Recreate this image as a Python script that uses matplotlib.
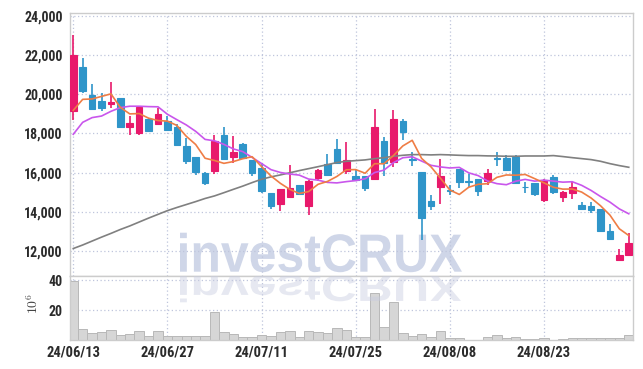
import matplotlib
matplotlib.use('Agg')
import matplotlib.pyplot as plt
import numpy as np
from matplotlib.textpath import TextPath
from matplotlib.patches import PathPatch
from matplotlib.font_manager import FontProperties
from matplotlib import font_manager as fm
from matplotlib.ticker import FuncFormatter
import matplotlib.transforms as mtransforms

dates = ['2024-06-13', '2024-06-14', '2024-06-17', '2024-06-18', '2024-06-19', '2024-06-20',
         '2024-06-21', '2024-06-24', '2024-06-25', '2024-06-26', '2024-06-27', '2024-06-28',
         '2024-07-01', '2024-07-02', '2024-07-03', '2024-07-04', '2024-07-05', '2024-07-08',
         '2024-07-09', '2024-07-10', '2024-07-11', '2024-07-12', '2024-07-15', '2024-07-16',
         '2024-07-17', '2024-07-18', '2024-07-19', '2024-07-22', '2024-07-23', '2024-07-24',
         '2024-07-25', '2024-07-26', '2024-07-29', '2024-07-30', '2024-07-31', '2024-08-01',
         '2024-08-02', '2024-08-05', '2024-08-06', '2024-08-07', '2024-08-08', '2024-08-09',
         '2024-08-12', '2024-08-13', '2024-08-14', '2024-08-16', '2024-08-19', '2024-08-20',
         '2024-08-21', '2024-08-22', '2024-08-23', '2024-08-26', '2024-08-27', '2024-08-28',
         '2024-08-29', '2024-08-30', '2024-09-02', '2024-09-03', '2024-09-04', '2024-09-05']

opens = [19140, 21380, 19940, 19650, 19480, 19780, 18320, 18000, 18730, 18480,
         18610, 18320, 17360, 16800, 15980, 16070, 17900, 16800, 17440, 16630,
         16250, 14950, 14420, 14760, 15350, 14300, 15740, 16460, 17190, 16080,
         15850, 15810, 15680, 17590, 16540, 18610, 16710, 16020, 14540, 15270,
         15120, 16170, 15560, 15660, 15560, 16730, 16720, 16800, 15290, 15460,
         14590, 15760, 14760, 14960, 14340, 14290, 14130, 13010, 11550, 11820]
highs = [22990, 21850, 20530, 20070, 20600, 19780, 18880, 19380, 18800, 19310,
         18870, 18490, 17760, 16800, 16030, 17930, 18320, 17870, 17520, 16660,
         16510, 14950, 15150, 16410, 15390, 15610, 16190, 16970, 17700, 17580,
         16120, 15810, 19260, 17800, 19210, 18750, 17050, 16050, 14880, 16690,
         15350, 16170, 15910, 15660, 16190, 17040, 16910, 16880, 15520, 15460,
         15660, 15860, 15070, 15510, 14510, 14510, 14130, 13400, 12130, 12940]
lows = [18700, 20050, 19210, 19120, 19310, 18270, 17930, 17930, 18070, 18440,
        18150, 17410, 16440, 15900, 15370, 15950, 16690, 16510, 16750, 15850,
        14960, 14130, 14030, 14740, 14850, 13830, 15560, 15860, 16460, 15950,
        15590, 15050, 15680, 15850, 16290, 17680, 16320, 12550, 14080, 14420,
        14850, 15220, 15270, 14810, 15390, 16340, 16070, 15470, 14960, 14810,
        14500, 14930, 14520, 14640, 14120, 13950, 13030, 12620, 11550, 11790]
closes = [21970, 20160, 19260, 19290, 19580, 18310, 18510, 19340, 18120, 18970,
          18170, 17410, 16580, 16020, 15470, 17590, 16690, 17030, 16750, 15980,
          15070, 14300, 15150, 15220, 14930, 15560, 16150, 15880, 16490, 16630,
          15610, 15220, 18310, 16470, 18710, 18070, 16660, 13690, 14320, 15810,
          15080, 15520, 15530, 15070, 15970, 16700, 16120, 15470, 15260, 14910,
          15610, 15000, 15000, 15290, 14130, 14100, 13030, 12620, 11790, 12430]
volumes = [39.3, 7.3, 4.7, 5.3, 6.7, 3.3, 4.0, 6.0, 2.7, 6.0,
           2.7, 2.7, 2.7, 2.7, 2.7, 18.7, 5.3, 4.0, 2.0, 2.0,
           3.3, 2.7, 5.3, 6.0, 2.0, 6.0, 5.3, 4.7, 8.0, 6.7,
           2.0, 2.0, 31.3, 8.7, 25.3, 4.7, 2.7, 4.0, 2.0, 6.0,
           1.3, 1.3, 0.4, 0.4, 2.0, 3.3, 1.3, 2.0, 0.7, 0.7,
           1.3, 0.4, 0.7, 1.3, 1.3, 1.3, 1.3, 1.3, 1.3, 3.3]
ma5 = [19170, 19730, 19750, 19880, 20010, 19320, 18990, 19006, 18772, 18650,
       18622, 18402, 17850, 17430, 16730, 16614, 16470, 16560, 16706, 16808,
       16304, 15826, 15450, 15144, 14934, 15032, 15402, 15548, 15802, 16142,
       16152, 15966, 16452, 16448, 16864, 17356, 17644, 16720, 16290, 15710,
       15112, 14884, 15252, 15402, 15434, 15758, 15878, 15866, 15904, 15692,
       15474, 15250, 15156, 15162, 15006, 14704, 14310, 13834, 13134, 12794]
ma10 = [17950, 18560, 18800, 18880, 19120, 19310, 19380, 19380, 19360, 19351,
        18971, 18696, 18428, 18101, 17690, 17618, 17436, 17205, 17068, 16769,
        16459, 16148, 16005, 15925, 15871, 15668, 15614, 15499, 15473, 15538,
        15592, 15684, 16000, 16125, 16503, 16754, 16805, 16586, 16369, 16287,
        16234, 16264, 15986, 15846, 15572, 15435, 15381, 15559, 15653, 15563,
        15616, 15564, 15511, 15533, 15349, 15089, 14780, 14495, 14148, 13900]
ma_long = [12130, 12310, 12510, 12710, 12900, 13100, 13280, 13480, 13680, 13870,
           14060, 14220, 14370, 14520, 14680, 14810, 14975, 15145, 15310, 15490,
           15660, 15780, 15880, 15990, 16100, 16200, 16300, 16405, 16510, 16575,
           16610, 16645, 16710, 16760, 16830, 16880, 16915, 16915, 16900, 16915,
           16900, 16880, 16865, 16865, 16850, 16845, 16830, 16830, 16845, 16845,
           16845, 16865, 16815, 16760, 16710, 16660, 16575, 16455, 16355, 16270]
price_ticks = [12000, 14000, 16000, 18000, 20000, 22000, 24000]
volume_ticks = [20, 40]
date_tick_idx = [0, 10, 20, 30, 40, 50]

W, H = 643, 369
fig = plt.figure(figsize=(W / 100, H / 100), dpi=100)
L, R = 69.5, 633
TOP, MID, BOT = 13, 276, 340.3
ax = fig.add_axes([L / W, 1 - MID / H, (R - L) / W, (MID - TOP) / H])
axv = fig.add_axes([L / W, 1 - BOT / H, (R - L) / W, (BOT - MID) / H], sharex=ax)

UP, DOWN = '#e8196b', '#2f95c9'
GRID = '#bfc5dc'
SPINE = '#cccccc'
LABEL = '#2b2b2b'

# pick a condensed bold font if one is installed
avail = {f.name for f in fm.fontManager.ttflist}
if 'Liberation Sans Narrow' in avail:
    yfont = FontProperties(family='Liberation Sans Narrow', weight='bold', size=10.5)
    xfont = FontProperties(family='Liberation Sans Narrow', weight='bold', size=11)
elif 'Roboto Condensed' in avail:
    yfont = FontProperties(family='Roboto Condensed', weight='bold', size=10)
    xfont = FontProperties(family='Roboto Condensed', weight='bold', size=10.5)
else:
    yfont = FontProperties(family='Liberation Sans', weight='bold', size=9)
    xfont = FontProperties(family='Liberation Sans', weight='bold', size=9.3)

x = np.arange(len(dates))
o = np.array(opens); c = np.array(closes); h = np.array(highs); l = np.array(lows)
cols = [UP if cc >= oo else DOWN for oo, cc in zip(o, c)]

ax.vlines(x, l, h, colors=cols, linewidth=1.2, zorder=3)
ax.bar(x, np.abs(c - o), bottom=np.minimum(o, c), width=0.7, color=cols,
       edgecolor=cols, linewidth=0.8, zorder=4)

ax.plot(x, ma_long, color='#808080', lw=1.2, zorder=5)
ax.plot(x, ma10, color='#c956ec', lw=1.2, zorder=5)
ax.plot(x, ma5, color='#ef7d45', lw=1.2, zorder=5)

axv.bar(x, volumes, width=1.0, color='#d6d6d6', edgecolor='#b8b8b8', linewidth=0.7, zorder=2)

ax.set_xlim(-0.4, 59.45)
ax.set_ylim(10730, 24130)
axv.set_ylim(0, 42.9)

for a in (ax, axv):
    a.set_axisbelow(True)
    a.grid(True, color=GRID, linestyle=(0, (1, 2)), linewidth=0.9)
    for s in a.spines.values():
        s.set_color(SPINE)
        s.set_linewidth(1.0)
    a.tick_params(length=0, colors=LABEL)

ax.set_yticks(price_ticks)
ax.yaxis.set_major_formatter(FuncFormatter(lambda v, p: f'{v:,.0f}'))
axv.set_yticks(volume_ticks)
axv.set_xticks(date_tick_idx)
axv.set_xticklabels([dates[i][2:].replace('-', '/') for i in date_tick_idx])
ax.tick_params(axis='x', labelbottom=False)
ax.tick_params(axis='y', pad=5)
axv.tick_params(axis='y', pad=5)
axv.tick_params(axis='x', pad=4)
for a in (ax, axv):
    for t in a.get_yticklabels():
        t.set_fontproperties(yfont)
        t.set_color(LABEL)
    for t in a.get_xticklabels():
        t.set_fontproperties(xfont)
        t.set_color(LABEL)

fig.text(33 / W, 1 - 304 / H, r'$10^6$', rotation=90, ha='center', va='center',
         fontsize=10, color='#444444', math_fontfamily='cm')

# watermark
wm_font = FontProperties(family='Liberation Sans', weight='bold')
tp = TextPath((0, 0), 'investCRUX', size=100, prop=wm_font)
ext = tp.get_extents()
x0, x1 = 180, 462
base, capt = H - 271.7, H - 232.7
sx = (x1 - x0) / ext.width
sy = (capt - base) / ext.y1
tr_main = mtransforms.Affine2D().translate(-ext.x0, 0).scale(sx, sy).translate(x0, base)
ax.add_patch(PathPatch(tp, transform=tr_main, facecolor='#cfd6e8', edgecolor='none', zorder=0.1))
rbase = H - 275
tr_ref = mtransforms.Affine2D().translate(-ext.x0, 0).scale(sx, -sy * 0.7).translate(x0, rbase)
axv.add_patch(PathPatch(tp, transform=tr_ref, facecolor='#c8cce0', edgecolor='none', alpha=0.45, zorder=3))

fig.savefig('out.png', dpi=100)
